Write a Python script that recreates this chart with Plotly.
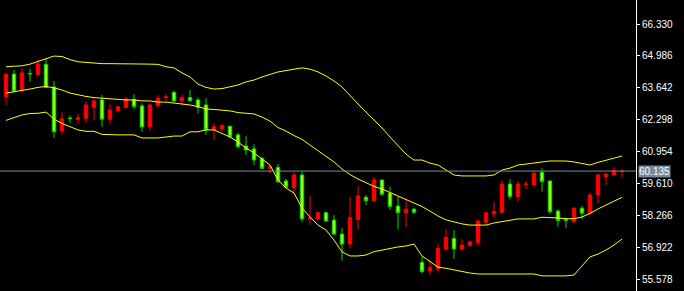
import plotly.graph_objects as go

# OHLC per bar (oldest -> newest)
opens = [63.27, 64.22, 63.54, 64.25, 64.21, 64.63, 63.68, 61.82, 62.37, 62.32,
         62.36, 62.82, 63.13, 62.32, 62.68, 62.81, 63.16, 62.88, 62.00, 62.89,
         63.23, 63.45, 63.10, 63.23, 63.13, 62.92, 61.87, 61.92, 62.02, 61.66,
         61.19, 61.07, 60.67, 60.25, 60.29, 59.72, 59.43, 59.97, 58.13, 58.12,
         58.38, 58.07, 57.48, 57.06, 58.10, 59.03, 58.89, 59.76, 59.20, 58.66,
         58.38, 58.53, 56.29, 55.93, 56.03, 56.85, 57.30, 56.84, 56.99, 57.12,
         57.98, 58.33, 58.40, 59.59, 59.06, 59.57, 59.55, 60.08, 59.72, 58.45,
         58.09, 58.00, 58.57, 58.36, 59.13, 59.90, 59.97, 60.12]
highs = [64.22, 64.39, 64.46, 64.44, 64.86, 64.89, 63.93, 62.61, 62.47, 62.54,
         63.06, 63.20, 63.34, 62.95, 62.88, 63.26, 63.37, 62.99, 62.95, 63.34,
         63.37, 63.52, 63.37, 63.55, 63.23, 63.20, 62.15, 62.11, 62.05, 61.75,
         61.61, 61.26, 60.74, 60.32, 60.43, 59.80, 60.08, 60.14, 59.09, 58.43,
         58.43, 58.28, 57.73, 59.06, 59.51, 59.13, 59.90, 59.76, 59.48, 59.06,
         58.99, 58.59, 56.53, 56.39, 57.09, 57.68, 57.65, 57.26, 57.20, 58.10,
         58.38, 58.82, 59.72, 59.79, 59.72, 59.73, 60.18, 60.25, 59.72, 58.53,
         58.15, 58.63, 58.66, 59.23, 60.04, 60.04, 60.31, 60.21]
lows = [62.92, 63.44, 63.44, 63.90, 64.15, 63.66, 61.52, 61.68, 62.17, 62.11,
        62.17, 62.26, 62.00, 62.12, 62.68, 62.81, 62.75, 61.79, 61.84, 62.81,
        63.09, 63.03, 62.89, 63.06, 62.57, 61.66, 61.44, 61.79, 61.52, 61.09,
        60.81, 60.39, 60.22, 60.04, 59.63, 59.41, 59.20, 58.00, 57.86, 58.12,
        58.00, 57.44, 56.36, 56.88, 57.68, 58.71, 58.89, 59.09, 58.50, 57.69,
        57.77, 58.33, 55.83, 55.76, 55.85, 56.78, 56.43, 56.81, 56.98, 56.99,
        57.89, 58.15, 58.33, 58.95, 58.85, 59.38, 59.55, 59.27, 58.33, 57.79,
        57.73, 57.94, 58.10, 58.29, 58.78, 59.55, 59.97, 59.87]
closes = [64.22, 63.51, 64.27, 64.23, 64.65, 63.66, 61.79, 62.33, 62.35, 62.38,
          62.92, 63.09, 62.32, 62.71, 62.84, 63.17, 62.85, 61.99, 62.92, 63.20,
          63.26, 63.09, 63.23, 63.10, 62.82, 61.87, 62.00, 62.05, 61.58, 61.16,
          61.02, 60.60, 60.25, 60.32, 59.69, 59.45, 59.97, 58.12, 58.16, 58.38,
          58.03, 57.48, 57.06, 58.17, 59.09, 58.89, 59.76, 59.16, 58.64, 58.38,
          58.53, 58.40, 55.90, 56.07, 56.88, 57.35, 56.85, 57.02, 57.15, 58.03,
          58.38, 58.43, 59.59, 59.06, 59.59, 59.59, 60.04, 59.69, 58.42, 58.05,
          58.06, 58.57, 58.36, 59.13, 59.97, 60.01, 60.15, 60.135]

# Bollinger bands
upper = [64.53, 64.54, 64.57, 64.64, 64.75, 64.88, 64.98, 64.96, 64.83, 64.74,
         64.71, 64.67, 64.66, 64.66, 64.66, 64.66, 64.66, 64.67, 64.64, 64.63,
         64.53, 64.48, 64.27, 64.10, 63.80, 63.66, 63.59, 63.61, 63.69, 63.76,
         63.89, 63.97, 64.10, 64.22, 64.31, 64.37, 64.43, 64.48, 64.43, 64.31,
         64.14, 63.93, 63.68, 63.30, 62.96, 62.62, 62.29, 61.95, 61.57, 61.23,
         60.85, 60.60, 60.60, 60.47, 60.39, 60.18, 59.97, 59.93, 59.93, 59.90,
         59.93, 59.97, 60.18, 60.26, 60.39, 60.43, 60.49, 60.52, 60.56, 60.56,
         60.56, 60.52, 60.46, 60.39, 60.50, 60.60, 60.69, 60.77]
middle = [63.42, 63.47, 63.55, 63.59, 63.66, 63.70, 63.64, 63.55, 63.42, 63.34,
          63.28, 63.23, 63.20, 63.20, 63.17, 63.13, 63.13, 63.09, 63.09, 63.04,
          63.04, 63.00, 62.99, 62.92, 62.85, 62.75, 62.73, 62.71, 62.67, 62.60,
          62.57, 62.54, 62.41, 62.24, 61.97, 61.82, 61.63, 61.47, 61.23, 61.00,
          60.77, 60.52, 60.22, 59.99, 59.80, 59.65, 59.49, 59.38, 59.23, 59.10,
          58.92, 58.79, 58.64, 58.45, 58.24, 58.08, 57.99, 57.91, 57.86, 57.86,
          57.86, 57.95, 58.01, 58.05, 58.12, 58.12, 58.12, 58.19, 58.19, 58.16,
          58.13, 58.13, 58.20, 58.35, 58.54, 58.71, 58.85, 59.03]
lower = [62.27, 62.39, 62.50, 62.56, 62.57, 62.62, 62.33, 62.14, 61.99, 61.87,
         61.81, 61.81, 61.68, 61.66, 61.66, 61.66, 61.66, 61.53, 61.53, 61.53,
         61.57, 61.61, 61.61, 61.79, 61.79, 61.87, 61.87, 61.72, 61.57, 61.36,
         61.11, 60.90, 60.64, 60.39, 59.76, 59.42, 59.21, 58.58, 58.20, 57.86,
         57.65, 57.23, 56.73, 56.56, 56.56, 56.60, 56.74, 56.81, 56.85, 56.94,
         56.98, 57.06, 56.56, 56.31, 56.09, 56.04, 55.97, 55.90, 55.84, 55.80,
         55.80, 55.80, 55.80, 55.80, 55.80, 55.80, 55.80, 55.72, 55.72, 55.72,
         55.72, 55.76, 56.14, 56.52, 56.64, 56.81, 57.02, 57.27]

tick_vals = [55.578, 56.922, 58.266, 59.610, 60.954, 62.298, 63.642, 64.986, 66.330]
tick_text = ["55.578", "56.922", "58.266", "59.610", "60.954", "62.298", "63.642", "64.986", "66.330"]
current_price = 60.135
current_label = "60.135"

x = list(range(len(opens)))

fig = go.Figure()
fig.add_trace(go.Candlestick(
    x=x, open=opens, high=highs, low=lows, close=closes,
    increasing=dict(line=dict(color="#ff0000", width=1), fillcolor="#ff0000"),
    decreasing=dict(line=dict(color="#00dd00", width=1), fillcolor="#99ff22"),
    whiskerwidth=0, hoverinfo="skip",
))
for band in (upper, middle, lower):
    fig.add_trace(go.Scatter(x=x, y=band, mode="lines",
                             line=dict(color="#ffff00", width=1), hoverinfo="skip"))

fig.add_shape(type="line", xref="paper", x0=0, x1=1, yref="y",
              y0=current_price, y1=current_price,
              line=dict(color="#778899", width=1))
fig.add_annotation(xref="paper", x=1, xanchor="left", xshift=2,
                   yref="y", y=current_price, yanchor="middle",
                   text=current_label, showarrow=False,
                   bgcolor="#778899", borderpad=0,
                   font=dict(family="Liberation Sans", size=10, color="#ffffff"))

fig.update_layout(
    width=684, height=291,
    margin=dict(l=0, r=48, t=0, b=0),
    paper_bgcolor="#000000", plot_bgcolor="#000000",
    showlegend=False, hovermode=False,
    boxgap=0.38,
    xaxis=dict(visible=False, range=[-0.75, 78.75], rangeslider=dict(visible=False)),
    yaxis=dict(side="right", range=[55.084, 67.341],
               tickvals=tick_vals, ticktext=tick_text,
               ticks="outside", ticklen=3, tickcolor="#ffffff", tickwidth=1,
               showline=True, linecolor="#ffffff", linewidth=1,
               showgrid=False, zeroline=False,
               tickfont=dict(family="Liberation Sans", size=10, color="#ffffff")),
)

fig.write_html("out.html")
